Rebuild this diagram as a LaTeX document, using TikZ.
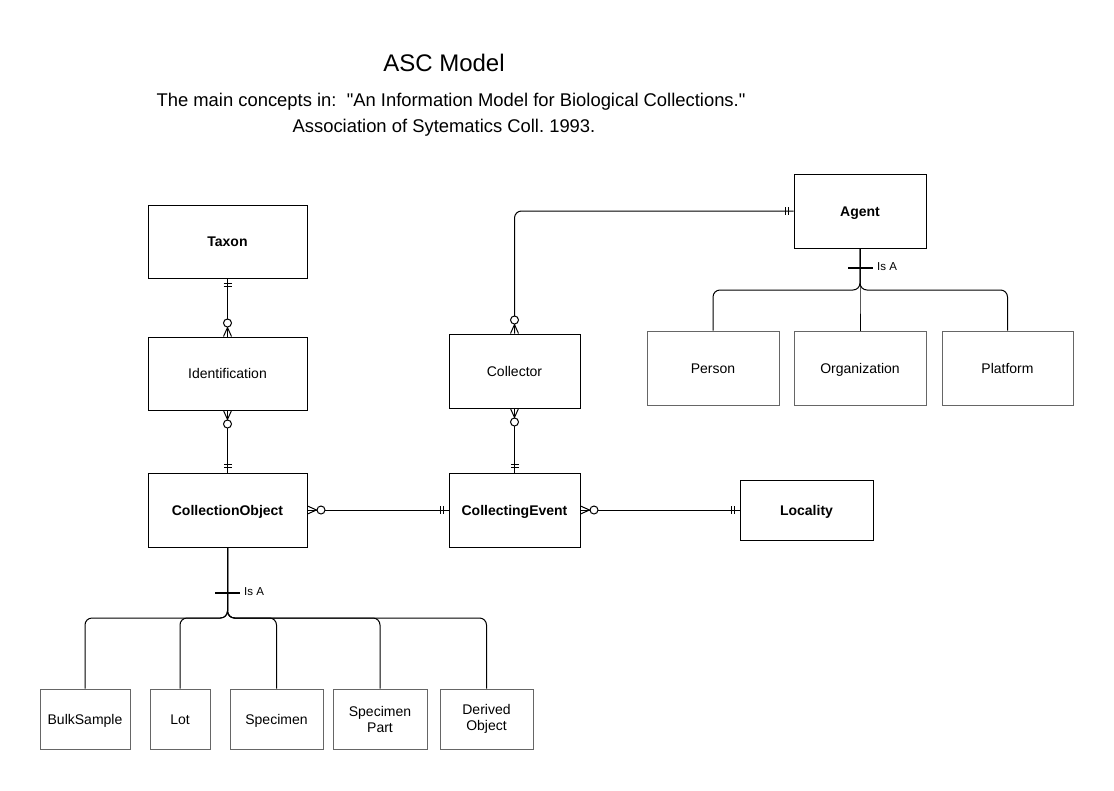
\documentclass[tikz,border=0pt]{standalone}
\usepackage{fontspec}
\setmainfont{Liberation Sans}[Ligatures=TeXOff]
\usetikzlibrary{arrows,positioning}
\frenchspacing
% crow's foot ends
\pgfarrowsdeclare{one}{one}
{\pgfarrowsleftextend{-9pt}\pgfarrowsrightextend{0pt}}
{
  \pgfsetdash{}{0pt}
  \pgfpathmoveto{\pgfpoint{-5pt}{4pt}}
  \pgfpathlineto{\pgfpoint{-5pt}{-4pt}}
  \pgfpathmoveto{\pgfpoint{-8pt}{4pt}}
  \pgfpathlineto{\pgfpoint{-8pt}{-4pt}}
  \pgfusepathqstroke
}
\pgfarrowsdeclare{many0}{many0}
{\pgfarrowsleftextend{-18pt}\pgfarrowsrightextend{0pt}}
{
  \pgfsetdash{}{0pt}
  \pgfpathmoveto{\pgfpoint{0pt}{4pt}}
  \pgfpathlineto{\pgfpoint{-9pt}{0pt}}
  \pgfpathlineto{\pgfpoint{0pt}{-4pt}}
  \pgfusepathqstroke
  \pgfsetfillcolor{white}
  \pgfpathcircle{\pgfpoint{-13.5pt}{0pt}}{4pt}
  \pgfusepathqfillstroke
}
\tikzstyle{label}=[text height=13.5pt,text depth=3pt]
\tikzstyle{entity}=[draw,line width=1pt,label,font=\bfseries\fontsize{14}{16}\selectfont]
\tikzstyle{plain}=[draw,line width=1pt,label,font=\fontsize{14}{16}\selectfont]
\tikzstyle{sub}=[draw=black!60,line width=1pt,align=center,font=\fontsize{14}{16}\selectfont]
\tikzstyle{rel}=[draw,line width=1pt]
\tikzstyle{tree}=[draw,line width=1pt,rounded corners=7pt]
\tikzstyle{isabar}=[draw,line width=2pt]

\begin{document}
\begin{tikzpicture}[x=1pt,y=-1pt]
    \useasboundingbox (0,0) rectangle (1114,790);
    % Title lines
    \node[anchor=base,font=\fontsize{24}{27}\selectfont] (title) at (444,71) {ASC Model};
    \node[anchor=base,font=\fontsize{18.4}{21}\selectfont] (sub1) at (451,106) {The main concepts in:\ \ "An Information Model for Biological Collections."};
    \node[anchor=base,font=\fontsize{18.4}{21}\selectfont] (sub2) at (444,132) {Association of Sytematics Coll. 1993.};
    % Entities
    \foreach \pos/\name/\w/\h/\txt in {{(227.5,241.5)/taxon/159/73/Taxon}, {(227.5,510)/colobj/159/74/CollectionObject},
        {(514.5,510)/colevent/131/74/CollectingEvent}, {(806.5,510)/locality/133/60/Locality}, {(860,211)/agent/132/74/Agent}}
        \node[entity,minimum width=\w pt,minimum height=\h pt] (\name) at \pos {\txt};
    \foreach \pos/\name/\w/\h/\txt in {{(227.5,373.5)/ident/159/73/Identification}, {(514.5,371)/collector/131/74/Collector}}
        \node[plain,minimum width=\w pt,minimum height=\h pt] (\name) at \pos {\txt};
    % Subtypes
    \foreach \pos/\name/\w/\txt in {{(713,368)/person/132/Person}, {(860,368)/org/132/Organization}, {(1007.5,368)/platform/131/Platform}}
        \node[sub,label,minimum width=\w pt,minimum height=74pt] (\name) at \pos {\txt};
    \foreach \pos/\name/\w/\txt in {{(85,719)/bulk/90/BulkSample}, {(180,719)/lot/60/Lot}, {(276.5,719)/spec/93/Specimen}}
        \node[sub,label,minimum width=\w pt,minimum height=60pt] (\name) at \pos {\txt};
    \foreach \pos/\name/\w/\txt in {{(380,719)/specpart/94/Specimen\\Part}, {(486.5,719)/derived/93/Derived\\Object}}
        \node[sub,minimum width=\w pt,minimum height=60pt] (\name) at \pos {\txt};
    % Relationships
    \path[rel,one-many0] (taxon) -- (ident);
    \path[rel,many0-one] (ident) -- (colobj);
    \path[rel,many0-one] (colobj) -- (colevent);
    \path[rel,many0-one] (colevent) -- (locality);
    \path[rel,many0-one] (collector) -- (colevent);
    \path[rel,one-many0,rounded corners=7pt] (agent.west) -| (collector.north);
    % Is A trees
    \coordinate (cojn) at (227.5,618);
    \coordinate (agjn) at (860,290);
    \foreach \child in {bulk,lot,spec,specpart,derived}
        \path[tree] (colobj.south) -- (cojn) -| (\child.north);
    \foreach \child in {person,org,platform}
        \path[tree] (agent.south) -- (agjn) -| (\child.north);
    \path[isabar] (215,593) -- (240,593);
    \node[anchor=west,inner sep=0pt,font=\fontsize{11.5}{13}\selectfont] (coisa) at (244,592) {Is A};
    \path[isabar] (848,268) -- (873,268);
    \node[anchor=west,inner sep=0pt,font=\fontsize{11.5}{13}\selectfont] (agisa) at (877,267) {Is A};
\end{tikzpicture}
\end{document}
